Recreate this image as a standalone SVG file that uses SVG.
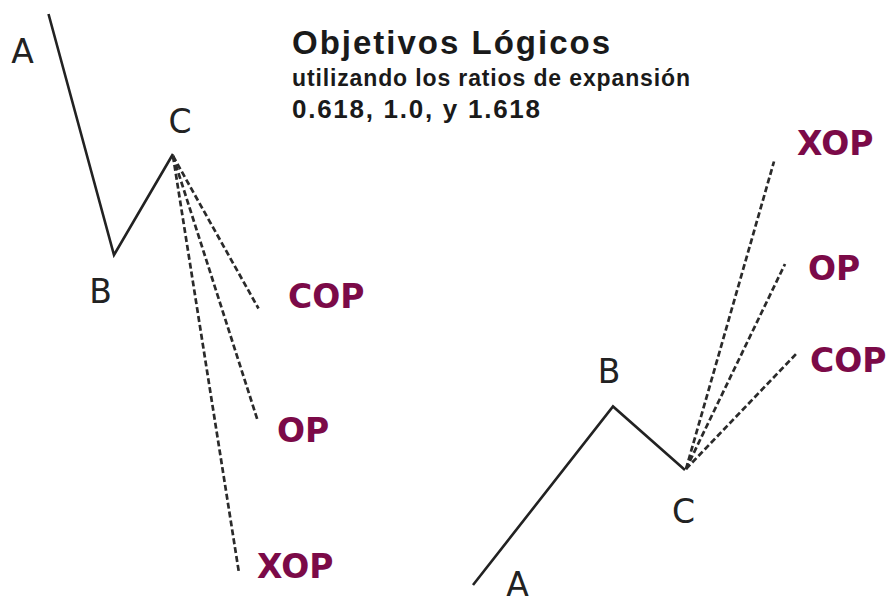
<svg xmlns="http://www.w3.org/2000/svg" width="888" height="596" viewBox="0 0 888 596">
<style>
.solid{fill:none;stroke:#222;stroke-width:2.6;stroke-linejoin:miter}
.dash{fill:none;stroke:#2a2a2a;stroke-width:2.7;stroke-dasharray:6 3}
.pt{font-family:"DejaVu Sans",Verdana,sans-serif;font-size:33px;fill:#222;text-anchor:middle}
.tg{font-family:"DejaVu Sans","Liberation Sans",sans-serif;font-weight:bold;font-size:33px;fill:#7b0a48}
.tt{font-family:"Liberation Sans",Arial,sans-serif;font-weight:bold;fill:#1a1a1a}
</style>
<rect width="888" height="596" fill="#fff"/>
<g id="title">
<text class="tt" x="292" y="53.5" font-size="33" textLength="318" lengthAdjust="spacing">Objetivos Lógicos</text>
<text class="tt" x="292" y="86" font-size="23" textLength="398" lengthAdjust="spacing">utilizando los ratios de expansión</text>
<text class="tt" x="292" y="118" font-size="26" textLength="248" lengthAdjust="spacing">0.618, 1.0, y 1.618</text>
</g>
<g id="connectors">
<polyline class="solid" points="48.5,14 114,255 173,154"/>
<line class="dash" x1="173" y1="156" x2="258.5" y2="308.5"/>
<line class="dash" x1="173" y1="156" x2="257.5" y2="420"/>
<line class="dash" x1="173" y1="156" x2="239" y2="573"/>
<polyline class="solid" points="473,585 613,406.5 685,470"/>
<line class="dash" x1="686" y1="469" x2="774" y2="161.5"/>
<line class="dash" x1="686" y1="469" x2="785" y2="264"/>
<line class="dash" x1="686" y1="469" x2="797" y2="353"/>
</g>
<g id="left-A"><text class="pt" x="22.5" y="63">A</text></g>
<g id="left-B"><text class="pt" x="100.5" y="303">B</text></g>
<g id="left-C"><text class="pt" x="180" y="133">C</text></g>
<g id="left-COP"><text class="tg" x="288" y="308">COP</text></g>
<g id="left-OP"><text class="tg" x="277" y="442">OP</text></g>
<g id="left-XOP"><text class="tg" x="257" y="578">XOP</text></g>
<g id="right-A"><text class="pt" x="517.5" y="596">A</text></g>
<g id="right-B"><text class="pt" x="609" y="383">B</text></g>
<g id="right-C"><text class="pt" x="683.5" y="523">C</text></g>
<g id="right-XOP"><text class="tg" x="797" y="155">XOP</text></g>
<g id="right-OP"><text class="tg" x="808" y="280">OP</text></g>
<g id="right-COP"><text class="tg" x="810" y="372">COP</text></g>
</svg>
